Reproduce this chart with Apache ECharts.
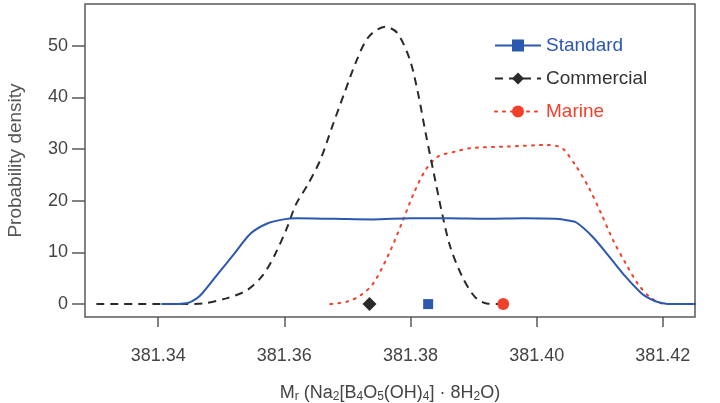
<!DOCTYPE html>
<html>
<head>
<meta charset="utf-8">
<script src="https://cdn.jsdelivr.net/npm/echarts@6/dist/echarts.min.js"></script>
<style>
  html, body { margin: 0; padding: 0; background: #fff; }
  #chart { width: 720px; height: 403px; }
</style>
</head>
<body>
<div id="chart"></div>
<script>
// values (x = Mr, y = probability density)
var standardData = [
  [381.3405, 0], [381.3430, 0.02], [381.3447, 0.2], [381.3460, 1.0], [381.3470, 2.1],
  [381.3495, 5.9], [381.3521, 9.8], [381.3547, 13.7], [381.3573, 15.6], [381.3599, 16.4],
  [381.3620, 16.6], [381.3680, 16.5], [381.3740, 16.4], [381.3800, 16.6], [381.3860, 16.6],
  [381.3920, 16.5], [381.3980, 16.6], [381.4030, 16.5], [381.4050, 16.2], [381.4063, 15.8],
  [381.4089, 13.0], [381.4115, 9.2], [381.4141, 5.3], [381.4166, 2.1], [381.4180, 1.0],
  [381.4192, 0.4], [381.4211, 0], [381.4253, 0]
]
var commercialData = [
  [381.3302, 0], [381.3444, 0], [381.3470, 0.1], [381.3508, 1.1], [381.3541, 2.7],
  [381.3566, 5.6], [381.3586, 9.8], [381.3605, 15.0], [381.3618, 19.2], [381.3637, 23.1],
  [381.3657, 27.9], [381.3676, 34.4], [381.3695, 40.8], [381.3715, 47.3], [381.3734, 51.8],
  [381.3760, 53.7], [381.3779, 52.5], [381.3799, 47.3], [381.3812, 40.8], [381.3824, 33.1],
  [381.3837, 25.3], [381.3850, 17.6], [381.3863, 11.1], [381.3882, 5.3], [381.3902, 1.4],
  [381.3921, 0.1], [381.3941, 0]
]
var marineData = [
  [381.3673, 0], [381.3700, 0.5], [381.3721, 1.7], [381.3741, 4.0], [381.3766, 9.8],
  [381.3786, 15.6], [381.3805, 21.4], [381.3824, 26.0], [381.3844, 28.6], [381.3870, 29.5],
  [381.3895, 30.2], [381.3953, 30.5], [381.4018, 30.8], [381.4035, 30.5], [381.4044, 29.8],
  [381.4063, 26.6], [381.4082, 22.7], [381.4102, 17.6], [381.4121, 12.4], [381.4141, 7.9],
  [381.4160, 4.0], [381.4179, 1.4], [381.4199, 0.1], [381.4211, 0]
]
// mean markers on the baseline
var standardMean = 381.3828
var commercialMean = 381.3735
var marineMean = 381.3947

var xTicks = [381.34, 381.36, 381.38, 381.40, 381.42]
var yTicks = [0, 10, 20, 30, 40, 50]

var font = 'Liberation Sans, Arial, Helvetica, sans-serif'
var blue = '#2c58b0'
var black = '#2a2a2a'
var red = '#f2402b'

var chart = echarts.init(document.getElementById('chart'))
chart.setOption({
  animation: false,
  textStyle: { fontFamily: font },
  grid: {
    show: true,
    left: 85,
    right: 25,
    top: 4,
    bottom: 86,
    outerBoundsMode: 'none',
    containLabel: false,
    borderColor: '#5a5a5a',
    borderWidth: 1.5,
    backgroundColor: 'transparent'
  },
  legend: {
    orient: 'vertical',
    left: 489,
    top: 31,
    itemWidth: 46,
    itemHeight: 15,
    itemGap: 14,
    textStyle: { fontSize: 19, fontFamily: font },
    data: [
      { name: 'Standard', textStyle: { color: blue } },
      { name: 'Commercial', textStyle: { color: '#333' } },
      { name: 'Marine', textStyle: { color: red } }
    ]
  },
  xAxis: {
    type: 'value',
    min: 381.3284,
    max: 381.4251,
    name: '{n|M}{s|r}{n| (Na}{s|2}{n|[B}{s|4}{n|O}{s|5}{n|(OH)}{s|4}{n|] · 8H}{s|2}{n|O)}',
    nameLocation: 'middle',
    nameGap: 66,
    nameTextStyle: {
      rich: {
        n: { fontSize: 18, color: '#444', lineHeight: 20, fontFamily: font },
        s: { fontSize: 12, color: '#444', lineHeight: 8, verticalAlign: 'bottom', fontFamily: font }
      }
    },
    axisLine: { show: false, onZero: false },
    axisTick: {
      show: true,
      inside: false,
      length: 10,
      customValues: xTicks,
      lineStyle: { color: '#5a5a5a', width: 1.5 }
    },
    axisLabel: {
      customValues: xTicks,
      margin: 30,
      fontSize: 18,
      color: '#444',
      formatter: function (v) { return v.toFixed(2) }
    },
    splitLine: { show: false }
  },
  yAxis: {
    type: 'value',
    min: -2.5,
    max: 58.1,
    name: 'Probability density',
    nameLocation: 'middle',
    nameGap: 60,
    nameTextStyle: { fontSize: 19, color: '#555' },
    axisLine: { show: false, onZero: false },
    axisTick: {
      show: true,
      length: 13,
      customValues: yTicks,
      lineStyle: { color: '#5a5a5a', width: 1.5 }
    },
    axisLabel: {
      customValues: yTicks,
      margin: 17,
      fontSize: 18,
      color: '#444'
    },
    splitLine: { show: false }
  },
  series: [
    {
      name: 'Standard',
      type: 'line',
      data: standardData,
      smooth: 0.3,
      showSymbol: false,
      symbol: 'rect',
      symbolSize: 10,
      itemStyle: { color: blue },
      lineStyle: { color: blue, width: 2 },
      z: 3,
      markPoint: {
        symbol: 'rect',
        symbolSize: 10,
        label: { show: false },
        itemStyle: { color: blue },
        data: [{ coord: [standardMean, 0] }]
      }
    },
    {
      name: 'Commercial',
      type: 'line',
      data: commercialData,
      smooth: 0.3,
      showSymbol: false,
      symbol: 'diamond',
      symbolSize: 14,
      itemStyle: { color: black },
      lineStyle: { color: black, width: 2, type: [8, 6] },
      z: 2,
      markPoint: {
        symbol: 'diamond',
        symbolSize: 14,
        label: { show: false },
        itemStyle: { color: black },
        data: [{ coord: [commercialMean, 0] }]
      }
    },
    {
      name: 'Marine',
      type: 'line',
      data: marineData,
      smooth: 0.3,
      showSymbol: false,
      symbol: 'circle',
      symbolSize: 12,
      itemStyle: { color: red },
      lineStyle: { color: red, width: 2, type: [2, 6], cap: 'round' },
      z: 1,
      markPoint: {
        symbol: 'circle',
        symbolSize: 12,
        label: { show: false },
        itemStyle: { color: red },
        data: [{ coord: [marineMean, 0] }]
      }
    }
  ]
})
</script>
</body>
</html>
